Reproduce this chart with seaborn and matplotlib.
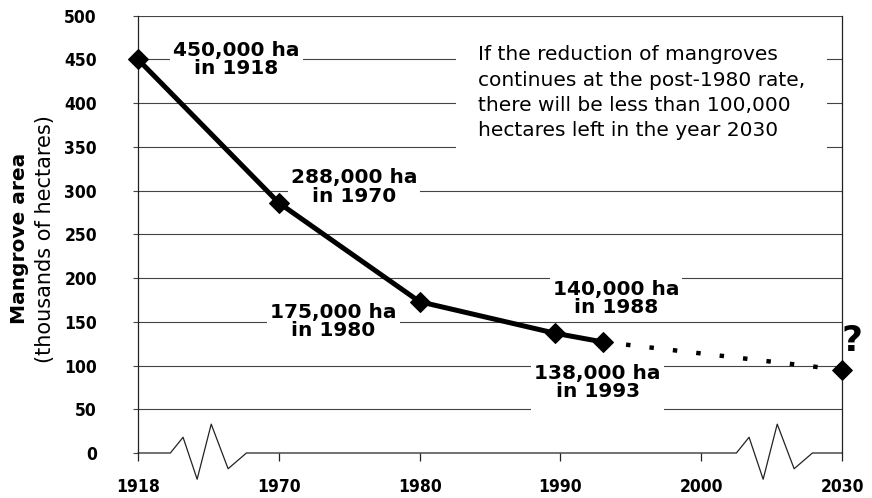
import numpy as np
import pandas as pd
import seaborn as sns
import matplotlib.pyplot as plt
from matplotlib import font_manager

# Data
years = [1918, 1970, 1980, 1989.6, 1993]
area = [450, 286, 173, 137, 127]
proj_years = [1993, 2030]
proj_area = [127, 95]
point_labels = ["450,000 ha\nin 1918", "288,000 ha\nin 1970", "175,000 ha\nin 1980",
                "140,000 ha\nin 1988", "138,000 ha\nin 1993\n"]
note = ("If the reduction of mangroves\ncontinues at the post-1980 rate,\n"
        "there will be less than 100,000\nhectares left in the year 2030")
xticks = [1918, 1970, 1980, 1990, 2000, 2030]
yticks = list(range(0, 501, 50))

# broken x axis: 1918-1970 and 2000-2030 squeezed into one tick step
brk_years = [1918, 1970, 2000, 2030]
brk_pos = [0, 1, 4, 5]

def fwd(x):
    return np.interp(x, brk_years, brk_pos)

def inv(p):
    return np.interp(p, brk_pos, brk_years)

df = pd.DataFrame({"year": years, "area": area})
proj = pd.DataFrame({"year": proj_years, "area": proj_area})

sns.set_style("white")
plt.rcParams['font.family'] = ['DejaVu Sans']
plt.rcParams['text.color'] = 'black'
plt.rcParams['axes.labelcolor'] = 'black'

names = {f.name for f in font_manager.fontManager.ttflist}
tick_family = 'Liberation Sans Narrow' if 'Liberation Sans Narrow' in names else 'DejaVu Sans'
tick_stretch = 'normal' if tick_family != 'DejaVu Sans' else 'condensed'

fig, ax = plt.subplots(figsize=(8.72, 4.98), dpi=100)
fig.subplots_adjust(left=138/872, right=842/872, bottom=1-453/498, top=1-15.7/498)
ax.set_xscale('function', functions=(fwd, inv))

# grid
ax.set_yticks(yticks)
ax.set_xticks(xticks)
ax.set_xlim(1918, 2030)
ax.set_ylim(0, 500)
ax.yaxis.grid(True, color='#444444', lw=0.8, zorder=0)
ax.get_ygridlines()[0].set_visible(False)
ax.set_axisbelow(True)

# lines
sns.lineplot(data=df, x="year", y="area", ax=ax, color='black', lw=3.6,
             marker='D', markersize=10, markeredgecolor='black', zorder=4, clip_on=False)
sns.lineplot(data=proj, x="year", y="area", ax=ax, color='black', lw=3.2,
             linestyle=(0, (1, 4.3)), zorder=3, clip_on=False)
sns.scatterplot(data=proj.iloc[[-1]], x="year", y="area", ax=ax, color='black',
                marker='D', s=100, edgecolor='black', zorder=4, clip_on=False)

# baseline with axis-break zigzags
zig_dx = np.array([-0.27, -0.18, -0.08, 0.02, 0.14, 0.27])
zig_dy = [0, 18, -30, 33, -18, 0]
base_x = [1918]
base_y = [0]
for c in [0.5, 4.52]:
    base_x += list(inv(c + zig_dx))
    base_y += zig_dy
base_x.append(2030)
base_y.append(0)
ax.plot(base_x, base_y, color='#222222', lw=0.9, clip_on=False, zorder=2)

# labels on points (kept under the line)
offsets = [(71, 0), (54, 11.5), (-62, -14.5), (44, 25), (-3.6, -36)]
box = dict(boxstyle='square,pad=0.15', fc='white', ec='none')
for (yr, val), txt, off in zip(zip(years, area), point_labels, offsets):
    ax.annotate(txt, xy=(yr, val), xytext=off, textcoords='offset points',
                ha='center', va='center', fontsize=14.5, fontweight='bold',
                linespacing=0.95, bbox=box, zorder=2.5)
ax.annotate("?", xy=(proj_years[-1], proj_area[-1]), xytext=(7, 21),
            textcoords='offset points', ha='center', va='center',
            fontsize=26, fontweight='bold', annotation_clip=False)

ax.text(0.483, 0.824, note, transform=ax.transAxes, ha='left', va='center',
        fontsize=14.5, linespacing=1.42,
        bbox=dict(boxstyle='square,pad=1.1', fc='white', ec='none'), zorder=2.5)

# axis label in two weights
ax.text(-0.169, 0.49, "Mangrove area", transform=ax.transAxes, rotation=90,
        ha='center', va='center', fontsize=14.5, fontweight='bold')
ax.text(-0.132, 0.49, "(thousands of hectares)", transform=ax.transAxes, rotation=90,
        ha='center', va='center', fontsize=15)
ax.set_xlabel("")
ax.set_ylabel("")

# spines and ticks
for s in ['top', 'bottom']:
    ax.spines[s].set_visible(False)
for s in ['left', 'right']:
    ax.spines[s].set_color('#222222')
    ax.spines[s].set_linewidth(0.9)
ax.spines['left'].set_bounds(0, 500)
ax.tick_params(axis='y', left=True, length=3.6, width=0.8, color='#444444',
               labelcolor='black', pad=26)
ax.tick_params(axis='x', bottom=True, direction='out', length=5.8, width=0.9,
               color='#222222', labelcolor='black', pad=12)
ax.xaxis.set_minor_locator(plt.NullLocator())
ax.set_xticklabels([str(t) for t in xticks])
for lab in ax.get_xticklabels() + ax.get_yticklabels():
    lab.set_family(tick_family)
    lab.set_stretch(tick_stretch)
    lab.set_fontweight('bold')
    lab.set_fontsize(12.5)

fig.savefig("out.png", dpi=100)
